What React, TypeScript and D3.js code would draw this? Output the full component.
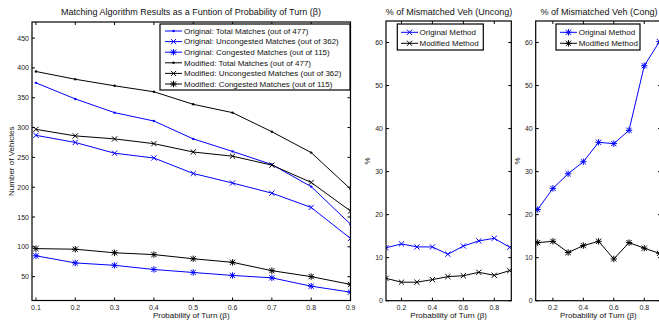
import { useEffect, useRef } from 'react';
import * as d3 from 'd3';

const betas = [0.1, 0.2, 0.3, 0.4, 0.5, 0.6, 0.7, 0.8, 0.9];

const origTotal = [375, 348, 325, 311, 281, 260, 238, 201, 138];
const origUncong = [287, 275, 257, 249, 223, 207, 190, 166, 114];
const origCong = [85, 73, 69, 62, 57, 52, 48, 34, 24];
const modTotal = [394, 381, 370, 360, 339, 325, 293, 258, 197];
const modUncong = [297, 286, 281, 273, 259, 252, 237, 208, 160];
const modCong = [97, 96, 90, 87, 80, 74, 60, 50, 37];

const uncongOrig = [12.3, 13.2, 12.5, 12.5, 10.8, 12.7, 13.9, 14.5, 12.4];
const uncongMod = [5.2, 4.3, 4.3, 4.9, 5.6, 5.8, 6.6, 5.9, 7.0];

const congOrig = [21.2, 26.1, 29.5, 32.3, 36.8, 36.5, 39.6, 54.6, 60.2];
const congMod = [13.5, 13.8, 11.2, 12.8, 13.8, 9.7, 13.5, 12.2, 11.0];

const countTicks = [50, 100, 150, 200, 250, 300, 350, 400, 450];
const pctTicks = [0, 10, 20, 30, 40, 50, 60];
const betaTicks1 = betas;
const betaTicks2 = [0.2, 0.4, 0.6, 0.8];

const BLUE = '#0000ff';
const BLACK = '#000000';
const FONT = 'Liberation Sans, Arial, Helvetica, sans-serif';

type Marker = 'dot' | 'x' | 'star';
interface Series { label: string; values: number[]; color: string; marker: Marker; }

const panel1Series: Series[] = [
  { label: 'Original: Total Matches (out of 477)', values: origTotal, color: BLUE, marker: 'dot' },
  { label: 'Original: Uncongested Matches (out of 362)', values: origUncong, color: BLUE, marker: 'x' },
  { label: 'Original: Congested Matches (out of 115)', values: origCong, color: BLUE, marker: 'star' },
  { label: 'Modified: Total Matches (out of 477)', values: modTotal, color: BLACK, marker: 'dot' },
  { label: 'Modified: Uncongested Matches (out of 362)', values: modUncong, color: BLACK, marker: 'x' },
  { label: 'Modified: Congested Matches (out of 115)', values: modCong, color: BLACK, marker: 'star' },
];
const panel2Series: Series[] = [
  { label: 'Original Method', values: uncongOrig, color: BLUE, marker: 'x' },
  { label: 'Modified Method', values: uncongMod, color: BLACK, marker: 'x' },
];
const panel3Series: Series[] = [
  { label: 'Original Method', values: congOrig, color: BLUE, marker: 'star' },
  { label: 'Modified Method', values: congMod, color: BLACK, marker: 'star' },
];

function drawMarker(g: any, kind: Marker, cx: number, cy: number, color: string) {
  if (kind === 'dot') {
    g.append('circle').attr('cx', cx).attr('cy', cy).attr('r', 1.2).attr('fill', color);
    return;
  }
  const r = 2.6;
  const p = g.append('path').attr('fill', 'none').attr('stroke', color).attr('stroke-width', 1);
  let d = `M${cx - r},${cy - r}L${cx + r},${cy + r}M${cx - r},${cy + r}L${cx + r},${cy - r}`;
  if (kind === 'star') d += `M${cx},${cy - r - 0.6}L${cx},${cy + r + 0.6}M${cx - r - 0.6},${cy}L${cx + r + 0.6},${cy}`;
  p.attr('d', d);
}

interface PanelOpts {
  left: number; right: number; top: number; bottom: number;
  xDomain: [number, number]; yDomain: [number, number];
  xTicks: number[]; yTicks: number[];
  title: string; titleX: number; yLabel: string; yLabelX: number;
  series: Series[];
  legend: { x0: number; x1: number; y0: number; y1: number; rowY: number; rowStep: number; lineX0: number; lineX1: number; textX: number };
}

function drawPanel(svg: any, o: PanelOpts) {
  const x = d3.scaleLinear().domain(o.xDomain).range([o.left, o.right]);
  const y = d3.scaleLinear().domain(o.yDomain).range([o.bottom, o.top]);
  const g = svg.append('g');
  const clipId = 'clip' + Math.round(o.left);
  g.append('clipPath').attr('id', clipId).append('rect')
    .attr('x', o.left).attr('y', o.top).attr('width', o.right - o.left).attr('height', o.bottom - o.top);

  g.append('rect').attr('x', o.left).attr('y', o.top).attr('width', o.right - o.left)
    .attr('height', o.bottom - o.top).attr('fill', '#fff');

  const plot = g.append('g').attr('clip-path', `url(#${clipId})`);
  const line = d3.line<number>().x((_, i) => x(betas[i])).y(v => y(v));
  o.series.forEach(s => {
    plot.append('path').attr('d', line(s.values)).attr('fill', 'none')
      .attr('stroke', s.color).attr('stroke-width', 1);
    s.values.forEach((v, i) => drawMarker(plot, s.marker, x(betas[i]), y(v), s.color));
  });

  // ticks, inward on all four sides
  const tl = 3;
  o.xTicks.forEach(t => {
    g.append('line').attr('x1', x(t)).attr('x2', x(t)).attr('y1', o.bottom).attr('y2', o.bottom - tl).attr('stroke', '#000');
    g.append('line').attr('x1', x(t)).attr('x2', x(t)).attr('y1', o.top).attr('y2', o.top + tl).attr('stroke', '#000');
    g.append('text').attr('x', x(t)).attr('y', o.bottom + 9).attr('text-anchor', 'middle')
      .attr('font-size', 7).attr('font-family', FONT).attr('fill', '#222').text(String(t));
  });
  o.yTicks.forEach(t => {
    g.append('line').attr('x1', o.left).attr('x2', o.left + tl).attr('y1', y(t)).attr('y2', y(t)).attr('stroke', '#000');
    g.append('line').attr('x1', o.right).attr('x2', o.right - tl).attr('y1', y(t)).attr('y2', y(t)).attr('stroke', '#000');
    g.append('text').attr('x', o.left - 3).attr('y', y(t) + 2.5).attr('text-anchor', 'end')
      .attr('font-size', 7).attr('font-family', FONT).attr('fill', '#222').text(String(t));
  });

  g.append('rect').attr('x', o.left).attr('y', o.top).attr('width', o.right - o.left)
    .attr('height', o.bottom - o.top).attr('fill', 'none').attr('stroke', '#000').attr('stroke-width', 1.2);

  // legend
  const L = o.legend;
  g.append('rect').attr('x', L.x0).attr('y', L.y0).attr('width', L.x1 - L.x0).attr('height', L.y1 - L.y0)
    .attr('fill', '#fff').attr('stroke', '#000').attr('stroke-width', 1.2);
  o.series.forEach((s, i) => {
    const ry = L.rowY + i * L.rowStep;
    g.append('line').attr('x1', L.lineX0).attr('x2', L.lineX1).attr('y1', ry).attr('y2', ry)
      .attr('stroke', s.color).attr('stroke-width', 1);
    drawMarker(g, s.marker, (L.lineX0 + L.lineX1) / 2, ry, s.color);
    g.append('text').attr('x', L.textX).attr('y', ry + 2.8).attr('font-size', 8).attr('font-family', FONT)
      .attr('fill', '#111').text(s.label);
  });

  g.append('text').attr('x', o.titleX).attr('y', 15).attr('text-anchor', 'middle')
    .attr('font-size', 9).attr('font-family', FONT).attr('fill', '#111').text(o.title);
  g.append('text').attr('x', (o.left + Math.min(o.right, 659 + (o.right - 659))) / 2).attr('y', 318)
    .attr('text-anchor', 'middle').attr('font-size', 8).attr('font-family', FONT).attr('fill', '#111')
    .text('Probability of Turn (β)');
  g.append('text').attr('transform', `translate(${o.yLabelX},${(o.top + o.bottom) / 2}) rotate(-90)`)
    .attr('text-anchor', 'middle').attr('font-size', 8).attr('font-family', FONT).attr('fill', '#111')
    .text(o.yLabel);
}

export default function App() {
  const svgRef = useRef<SVGSVGElement>(null);

  useEffect(() => {
    if (!svgRef.current) return;
    const svg = d3.select(svgRef.current);
    svg.selectAll('*').remove();
    svg.append('rect').attr('width', 659).attr('height', 325).attr('fill', '#fff');

    drawPanel(svg, {
      left: 32, right: 350.5, top: 22, bottom: 300.5,
      xDomain: [0.09, 0.9], yDomain: [10, 477],
      xTicks: betaTicks1, yTicks: countTicks,
      title: 'Matching Algorithm Results as a Funtion of Probability of Turn (β)', titleX: 191,
      yLabel: 'Number of Vehicles', yLabelX: 14,
      series: panel1Series,
      legend: { x0: 160, x1: 350, y0: 24, y1: 90, rowY: 31, rowStep: 10.6, lineX0: 165, lineX1: 182, textX: 184 },
    });
    drawPanel(svg, {
      left: 386, right: 511.3, top: 21, bottom: 300.7,
      xDomain: [0.1, 0.91], yDomain: [0, 65],
      xTicks: betaTicks2, yTicks: pctTicks,
      title: '% of Mismatched Veh (Uncong)', titleX: 449,
      yLabel: '%', yLabelX: 370,
      series: panel2Series,
      legend: { x0: 397.3, x1: 483.3, y0: 24, y1: 50, rowY: 32.3, rowStep: 11, lineX0: 401, lineX1: 418, textX: 419.5 },
    });
    drawPanel(svg, {
      left: 535.7, right: 661, top: 21, bottom: 300.7,
      xDomain: [0.087, 0.91], yDomain: [0, 65],
      xTicks: betaTicks2, yTicks: pctTicks,
      title: '% of Mismatched Veh (Cong)', titleX: 599,
      yLabel: '%', yLabelX: 520,
      series: panel3Series,
      legend: { x0: 556, x1: 640, y0: 24, y1: 50, rowY: 32.3, rowStep: 11, lineX0: 560, lineX1: 577, textX: 578.7 },
    });
  }, []);

  return (
    <svg ref={svgRef} width={659} height={325}
      style={{ position: 'absolute', left: 0, top: 0, display: 'block' }} />
  );
}
